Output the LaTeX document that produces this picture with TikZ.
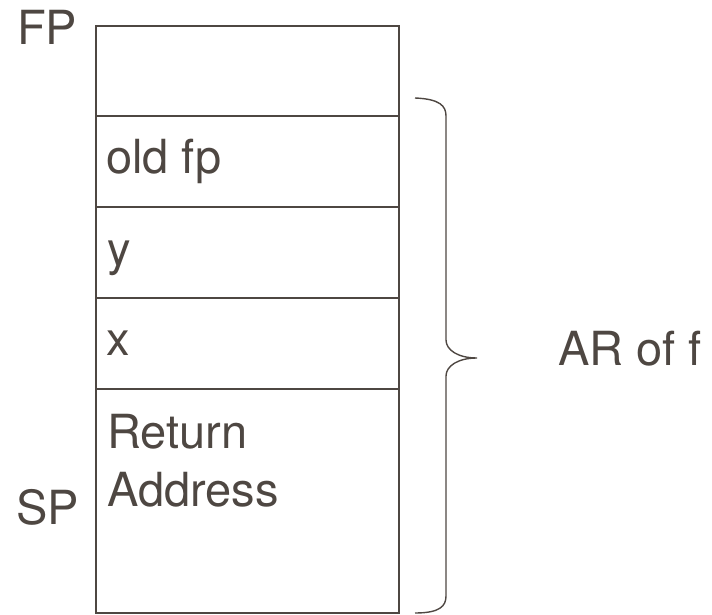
\documentclass[tikz,border=0pt]{standalone}
\usepackage{fontspec}
\setmainfont{TeX Gyre Heros}
\definecolor{ink}{HTML}{4E4742}
\begin{document}
\begin{tikzpicture}[x=1pt,y=-1pt,
  cell/.style={draw=ink,line width=2pt,minimum width=303pt,inner sep=0pt,anchor=north west},
  lbl/.style={text=ink,font=\fontsize{47}{56}\selectfont,inner sep=0pt,anchor=base west}]
\useasboundingbox (0,0) rectangle (712,615);
\node[cell,minimum height=90pt] (c0) at (95,25) {};
\node[cell,minimum height=91pt] (c1) at (95,115) {};
\node[cell,minimum height=91pt] (c2) at (95,206) {};
\node[cell,minimum height=91pt] (c3) at (95,297) {};
\node[cell,minimum height=224pt] (c4) at (95,388) {};
\node[lbl] (oldfp) at (106,173) {old fp};
\node[lbl] (y) at (107,265) {y};
\node[lbl] (x) at (106,355) {x};
\node[lbl] (ret) at (107,448) {Return};
\node[lbl] (addr) at (107,506) {Address};
\node[lbl] (fp) at (17,45) {FP};
\node[lbl] (sp) at (16,524) {SP};
\node[lbl] (ar) at (558,365) {AR of f};
\draw[ink,line width=1.4pt] (415,98) .. controls (440,99) and (446,106) .. (446,116)
  -- (446,340) .. controls (446,350) and (458,358) .. (477,358)
  .. controls (458,358) and (446,366) .. (446,376)
  -- (446,596) .. controls (446,606) and (440,613) .. (415,613);
\end{tikzpicture}
\end{document}
